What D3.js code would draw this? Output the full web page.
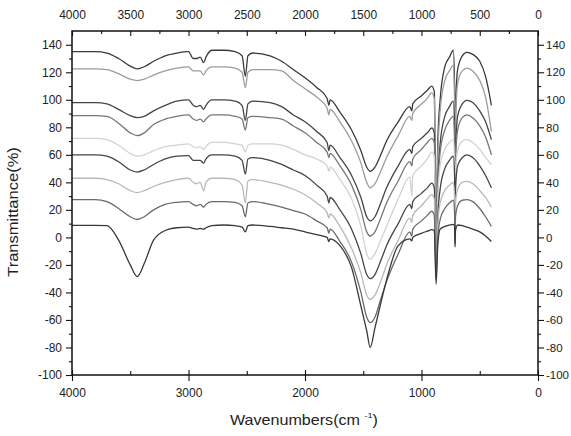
<!DOCTYPE html>
<html><head><meta charset="utf-8">
<script src="https://cdn.jsdelivr.net/npm/d3@7"></script>
<style>body{margin:0;background:#fff}svg{display:block}</style>
</head><body><svg id="c" width="571" height="436"></svg>
<script>
const wavenumbers=[4000,3800,3700,3600,3500,3440,3380,3300,3200,3100,3000,2960,2930,2900,2870,2850,2800,2700,2600,2540,2512,2490,2450,2300,2200,2100,2000,1900,1810,1795,1785,1700,1600,1520,1470,1440,1400,1350,1300,1200,1100,1083,1075,1000,950,912,890,875,860,840,800,760,727,716,712,708,690,650,610,560,500,450,400];
const series1=[135,135,134,130,124.5,122.5,124,128,132,134,135,130,130,131,127,131,136,136,135,132,117,132,134,132,128,122,116,109,101,96,100,91,78,63,51,48,51,60,70,84,95,92,97,103,107,110,106,5,70,100,124,131,136,110,20,90,122,132,134.5,133,128,117,96];
const series2=[122.5,122.5,122,119,115,114,115,118,121,123,124,121,121,121,118,121,124,124,123,120,109,120,122,122,121,114,108,102,94,89,93,84,70,54,40,36,39,48,58,74,88,85,90,97,101,105,101,0,60,92,114,121,125,100,15,80,112,121,123,121,114,102,77];
const series3=[98,98,97,93,88.5,87,88,92,96,99,100,96,95,96,93,96,100,100,99,96,85,97,99,98,95,89,84,77,69,63,67,58,45,29,15,12,15,25,36,52,64,61,66,72,76,79.5,76,-10,40,68,88,95,99,80,10,60,88,97,99.6,98,92,84,71];
const series4=[88.5,88.5,88,83,76,74,76,82,86,88,89,86,85,86,84,86,89,89,88,86,78,87,88,87,86,81,76,69,62,58,61,52,38,20,4,1,4,14,25,41,55,52,57,64,69,72,69,-15,35,62,78,85,88,70,5,55,78,87,89,87,81,73,60];
const series5=[72,72,71,67,61,59,60,63,66,67,68,66,65,66,64,66,69,69,68,67,62,67,68,68,67,64,60,57,52,48,51,42,28,8,-12,-16,-12,-2,8,28,44,30,45,52,57,62,59,-20,30,52,64,69,71,55,5,45,63,70,71,69,64,58,53];
const series6=[60,60,59,55,49,47.5,49,53,57,59,59.5,56,56,56,54,57,60,60,59,56,46,57,58,56,53,49,45,38,30,25,29,20,6,-12,-27,-30,-27,-17,-6,10,24,21,26,32,36,39.5,36,-25,15,35,50,56,59,45,0,35,52,58,60,58,52,45,36];
const series7=[43,43,42,39,34,32.5,34,37,40,42,43,40,39,40,34,40,43,43,42,38,25,41,42,40,38,35,31,25,18,14,17,8,-8,-26,-42,-45,-42,-32,-20,-2,14,11,16,23,28,31,28,-28,10,25,34,38,40,30,-2,25,35,40,40.7,39,34,29,22];
const series8=[27.5,27.5,26,21,15,13,15,20,24,25.5,26,24,23,24,22,24,26,26,25.5,23,15,25,26,24,22,19.5,17,12,7,3,6,-3,-18,-40,-58,-62,-58,-45,-32,-12,4,1,6,12,16,19,16,-30,0,13,21,25,27,18,-5,15,23,27,27.4,26,21,15,8];
const series9=[8.7,8.7,8.5,-2,-20,-28.5,-19,-2,5,7,7.5,6.5,6,6.5,6,7,8.5,9,8.5,7.5,4,8.5,9,8,7,6,4,2,0,-3,-1,-6,-22,-50,-68,-80,-66,-48,-31,-6,-1,-2.5,0,3,4.5,5.6,5,-34,-5,6,8,9,9.5,8,-7,5,9,8.5,7.5,6,4,1,-3];
const allSeries=[series1,series2,series3,series4,series5,series6,series7,series8,series9];
const seriesColors=["#3a3a3a","#9c9c9c","#454545","#767676","#d2d2d2","#454545","#b8b8b8","#6a6a6a","#383838"];
const yTickValues=d3.range(-100,141,20);
const yMinorValues=d3.range(-90,141,20);
const topTickValues=d3.range(0,4001,500);
const topMinorValues=d3.range(250,4000,500);
const bottomTickValues=d3.range(0,4001,1000);
const bottomMinorValues=d3.range(500,4000,1000);

const svg=d3.select('#c');
const L=72,R=538,T=31,B=375;
const x=d3.scaleLinear().domain([4000,0]).range([L,R]);
const y=d3.scaleLinear().domain([-100,150]).range([B,T]);
const fmt=d=>String(d);

svg.append('defs').append('clipPath').attr('id','clip').append('rect')
  .attr('x',L).attr('y',T).attr('width',R-L).attr('height',B-T);

const line=d3.line().x((d,i)=>x(wavenumbers[i])).y(d=>y(d)).curve(d3.curveMonotoneX);
const gLines=svg.append('g').attr('clip-path','url(#clip)');
allSeries.forEach((s,k)=>{
  gLines.append('path').attr('d',line(s)).attr('fill','none')
    .attr('stroke',seriesColors[k]).attr('stroke-width',1.3).attr('stroke-linejoin','round');
});

function style(fs){
  return g=>{
    g.select('.domain').remove();
    g.selectAll('.tick line').attr('stroke','#111').attr('stroke-width',1.1);
    g.selectAll('.tick text').attr('fill','#222').attr('font-size',fs)
      .attr('font-family','Arial, "Liberation Sans", sans-serif');
  };
}
// left
svg.append('g').attr('transform',`translate(${L},0)`)
  .call(d3.axisLeft(y).tickValues(yTickValues).tickFormat(fmt).tickSize(6).tickPadding(4)).call(style(12));
svg.append('g').attr('transform',`translate(${L},0)`)
  .call(d3.axisLeft(y).tickValues(yMinorValues).tickSize(3).tickFormat('')).call(style(12));
// right
svg.append('g').attr('transform',`translate(${R},0)`)
  .call(d3.axisRight(y).tickValues(yTickValues).tickFormat(fmt).tickSize(6).tickPadding(2)).call(style(11.5));
svg.append('g').attr('transform',`translate(${R},0)`)
  .call(d3.axisRight(y).tickValues(yMinorValues).tickSize(3).tickFormat('')).call(style(12));
// top
svg.append('g').attr('transform',`translate(0,${T})`)
  .call(d3.axisTop(x).tickValues(topTickValues).tickFormat(fmt).tickSizeInner(-5).tickSizeOuter(0).tickPadding(12.5)).call(style(12));
svg.append('g').attr('transform',`translate(0,${T})`)
  .call(d3.axisTop(x).tickValues(topMinorValues).tickSizeInner(-3).tickSizeOuter(0).tickFormat('')).call(style(12));
// bottom
svg.append('g').attr('transform',`translate(0,${B})`)
  .call(d3.axisBottom(x).tickValues(bottomTickValues).tickFormat(fmt).tickSizeInner(6).tickSizeOuter(0).tickPadding(7.5)).call(style(12));
svg.append('g').attr('transform',`translate(0,${B})`)
  .call(d3.axisBottom(x).tickValues(bottomTickValues).tickSizeInner(-5).tickSizeOuter(0).tickFormat('')).call(style(12));
svg.append('g').attr('transform',`translate(0,${B})`)
  .call(d3.axisBottom(x).tickValues(bottomMinorValues).tickSizeInner(-4).tickSizeOuter(0).tickFormat('')).call(style(12));

// frame
svg.append('rect').attr('x',L).attr('y',T).attr('width',R-L).attr('height',B-T)
  .attr('fill','none').attr('stroke','#111').attr('stroke-width',1.5);

// x title
const xt=svg.append('text').attr('transform','translate(230,425) scale(1.15,1)')
  .attr('font-family','Arial, "Liberation Sans", sans-serif').attr('font-size',14).attr('fill','#222');
xt.append('tspan').text('Wavenumbers(cm ');
xt.append('tspan').attr('font-size',8).attr('dy',-7).text('-1');
xt.append('tspan').attr('dy',7).text(')');
// y title
svg.append('text').attr('transform','translate(18,212) rotate(-90) scale(1.18,1)')
  .attr('text-anchor','middle').attr('font-family','Arial, "Liberation Sans", sans-serif')
  .attr('font-size',14).attr('fill','#222').text('Transmittance(%)');
</script></body></html>
